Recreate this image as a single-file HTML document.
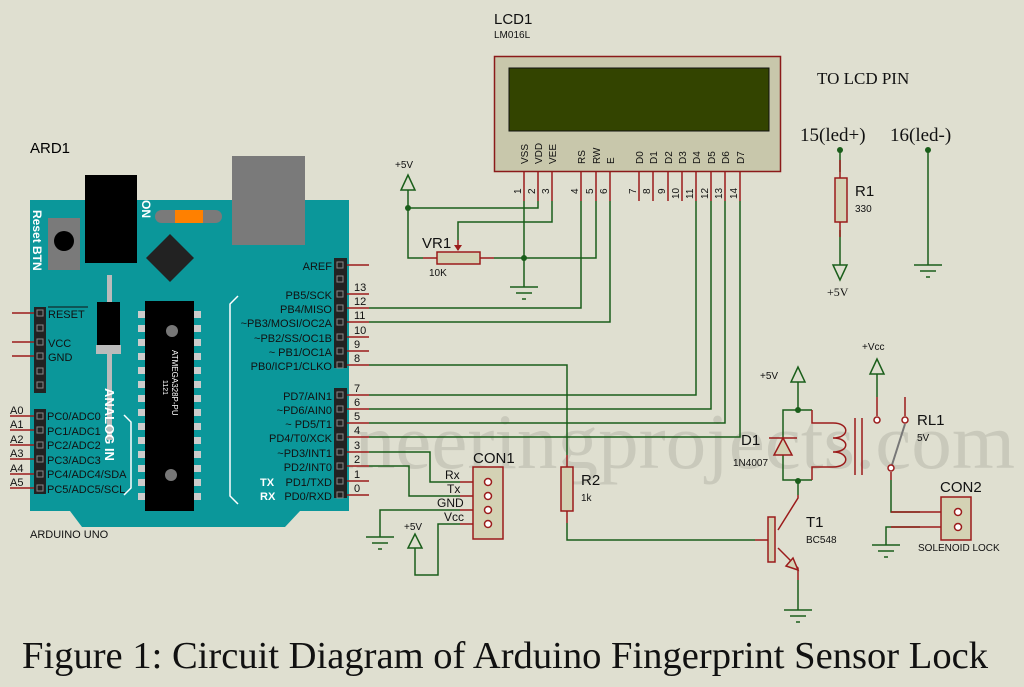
<!DOCTYPE html>
<html><head><meta charset="utf-8"><style>
html,body{margin:0;padding:0;background:#dfdfd0;}
svg{display:block;}
text{font-family:"Liberation Sans",sans-serif;}
.s{font-family:"Liberation Serif",serif;}
</style></head><body>
<svg width="1024" height="687" viewBox="0 0 1024 687" xmlns="http://www.w3.org/2000/svg">
<rect width="1024" height="687" fill="#dfdfd0"/>
<!-- watermark -->
<text x="215" y="468" class="s" font-size="78" fill="#c9c9bb" textLength="800" lengthAdjust="spacingAndGlyphs">engineeringprojects.com</text>

<!-- ARDUINO -->
<text x="30" y="153" font-size="15" fill="#000">ARD1</text>
<polygon points="30,200 349,200 349,511 300,511 285,527 82,527 70,511 30,511" fill="#0b979a"/>
<rect x="232" y="156" width="73" height="89" fill="#7a7a7a"/>
<rect x="85" y="175" width="52" height="88" fill="#000"/>
<rect x="48" y="218" width="32" height="52" fill="#7a7a7a"/>
<circle cx="64" cy="241" r="10" fill="#000"/>
<text transform="translate(33,210) rotate(90)" font-size="12" font-weight="bold" fill="#fff">Reset BTN</text>
<text transform="translate(142,200) rotate(90)" font-size="12" font-weight="bold" fill="#fff">ON</text>
<rect x="155" y="210" width="67" height="13" rx="6.5" fill="#7a7a7a"/>
<rect x="175" y="210" width="28" height="13" fill="#ff8000"/>
<polygon points="170,234 194,258 170,282 146,258" fill="#222"/>
<rect x="107" y="275" width="5" height="165" fill="#bbb"/>
<rect x="97" y="302" width="23" height="44" fill="#000"/>
<rect x="96" y="345" width="25" height="9" fill="#bbb"/>
<text transform="translate(105,388) rotate(90)" font-size="13" font-weight="bold" fill="#fff">ANALOG IN</text>
<!-- big chip -->
<rect x="145" y="301" width="49" height="210" fill="#000"/>
<g fill="#ccc">
<rect x="138" y="311" width="7" height="7"/><rect x="138" y="325" width="7" height="7"/><rect x="138" y="339" width="7" height="7"/><rect x="138" y="353" width="7" height="7"/><rect x="138" y="367" width="7" height="7"/><rect x="138" y="381" width="7" height="7"/><rect x="138" y="395" width="7" height="7"/><rect x="138" y="409" width="7" height="7"/><rect x="138" y="423" width="7" height="7"/><rect x="138" y="437" width="7" height="7"/><rect x="138" y="451" width="7" height="7"/><rect x="138" y="465" width="7" height="7"/><rect x="138" y="479" width="7" height="7"/><rect x="138" y="493" width="7" height="7"/>
<rect x="194" y="311" width="7" height="7"/><rect x="194" y="325" width="7" height="7"/><rect x="194" y="339" width="7" height="7"/><rect x="194" y="353" width="7" height="7"/><rect x="194" y="367" width="7" height="7"/><rect x="194" y="381" width="7" height="7"/><rect x="194" y="395" width="7" height="7"/><rect x="194" y="409" width="7" height="7"/><rect x="194" y="423" width="7" height="7"/><rect x="194" y="437" width="7" height="7"/><rect x="194" y="451" width="7" height="7"/><rect x="194" y="465" width="7" height="7"/><rect x="194" y="479" width="7" height="7"/><rect x="194" y="493" width="7" height="7"/>
</g>
<circle cx="172" cy="331" r="6" fill="#777"/><circle cx="171" cy="475" r="6" fill="#777"/>
<text transform="translate(163,380) rotate(90)" font-size="7" fill="#fff">1121</text>
<text transform="translate(172,350) rotate(90)" font-size="8" fill="#fff">ATMEGA328P-PU</text>
<!-- brackets -->
<polyline points="238,296 230,304 230,496 238,504" fill="none" stroke="#fff" stroke-width="1.5"/>
<polyline points="124,415 131,422 131,488 124,495" fill="none" stroke="#fff" stroke-width="1.5"/>
<!-- left headers -->
<g stroke="#9b1b1b" stroke-width="1.5">
<line x1="12" y1="313" x2="40" y2="313"/><line x1="12" y1="342" x2="40" y2="342"/><line x1="12" y1="356" x2="40" y2="356"/>
<line x1="10" y1="416" x2="40" y2="416"/><line x1="10" y1="430" x2="40" y2="430"/><line x1="10" y1="445" x2="40" y2="445"/><line x1="10" y1="459" x2="40" y2="459"/><line x1="10" y1="474" x2="40" y2="474"/><line x1="10" y1="488" x2="40" y2="488"/>
</g>
<rect x="34" y="307" width="12" height="86" fill="#222"/>
<rect x="34" y="409" width="12" height="85" fill="#222"/>
<g fill="none" stroke="#888" stroke-width="1">
<rect x="37" y="310" width="6" height="6"/><rect x="37" y="325" width="6" height="6"/><rect x="37" y="339" width="6" height="6"/><rect x="37" y="353" width="6" height="6"/><rect x="37" y="368" width="6" height="6"/><rect x="37" y="382" width="6" height="6"/>
<rect x="37" y="413" width="6" height="6"/><rect x="37" y="427" width="6" height="6"/><rect x="37" y="442" width="6" height="6"/><rect x="37" y="456" width="6" height="6"/><rect x="37" y="471" width="6" height="6"/><rect x="37" y="485" width="6" height="6"/>
</g>
<g font-size="11" fill="#111">
<text x="48" y="318">RESET</text><line x1="48" y1="307" x2="88" y2="307" stroke="#111"/>
<text x="48" y="347">VCC</text><text x="48" y="361">GND</text>
<text x="47" y="420">PC0/ADC0</text><text x="47" y="435">PC1/ADC1</text><text x="47" y="449">PC2/ADC2</text><text x="47" y="464">PC3/ADC3</text><text x="47" y="478">PC4/ADC4/SDA</text><text x="47" y="493">PC5/ADC5/SCL</text>
<text x="10" y="414">A0</text><text x="10" y="428">A1</text><text x="10" y="443">A2</text><text x="10" y="457">A3</text><text x="10" y="472">A4</text><text x="10" y="486">A5</text>
</g>
<text x="30" y="538" font-size="11" fill="#111">ARDUINO UNO</text>
<!-- right headers -->
<g stroke="#9b1b1b" stroke-width="1.5">
<line x1="340" y1="265" x2="369" y2="265"/><line x1="340" y1="294" x2="369" y2="294"/><line x1="340" y1="308" x2="369" y2="308"/><line x1="340" y1="322" x2="369" y2="322"/><line x1="340" y1="337" x2="369" y2="337"/><line x1="340" y1="351" x2="369" y2="351"/><line x1="340" y1="365" x2="369" y2="365"/>
<line x1="340" y1="395" x2="369" y2="395"/><line x1="340" y1="409" x2="369" y2="409"/><line x1="340" y1="423" x2="369" y2="423"/><line x1="340" y1="437" x2="369" y2="437"/><line x1="340" y1="452" x2="369" y2="452"/><line x1="340" y1="466" x2="369" y2="466"/><line x1="340" y1="481" x2="369" y2="481"/><line x1="340" y1="495" x2="369" y2="495"/>
</g>
<rect x="334" y="258" width="13" height="110" fill="#222"/>
<rect x="334" y="388" width="13" height="110" fill="#222"/>
<g fill="none" stroke="#888" stroke-width="1">
<rect x="337" y="262" width="6" height="6"/><rect x="337" y="276" width="6" height="6"/><rect x="337" y="291" width="6" height="6"/><rect x="337" y="305" width="6" height="6"/><rect x="337" y="319" width="6" height="6"/><rect x="337" y="334" width="6" height="6"/><rect x="337" y="348" width="6" height="6"/><rect x="337" y="362" width="6" height="6"/>
<rect x="337" y="392" width="6" height="6"/><rect x="337" y="406" width="6" height="6"/><rect x="337" y="420" width="6" height="6"/><rect x="337" y="434" width="6" height="6"/><rect x="337" y="449" width="6" height="6"/><rect x="337" y="463" width="6" height="6"/><rect x="337" y="478" width="6" height="6"/><rect x="337" y="492" width="6" height="6"/>
</g>
<g font-size="11" fill="#111" text-anchor="end">
<text x="332" y="270">AREF</text><text x="332" y="299">PB5/SCK</text><text x="332" y="313">PB4/MISO</text><text x="332" y="327">~PB3/MOSI/OC2A</text><text x="332" y="342">~PB2/SS/OC1B</text><text x="332" y="356">~ PB1/OC1A</text><text x="332" y="370">PB0/ICP1/CLKO</text>
<text x="332" y="400">PD7/AIN1</text><text x="332" y="414">~PD6/AIN0</text><text x="332" y="428">~ PD5/T1</text><text x="332" y="442">PD4/T0/XCK</text><text x="332" y="457">~PD3/INT1</text><text x="332" y="471">PD2/INT0</text><text x="332" y="486">PD1/TXD</text><text x="332" y="500">PD0/RXD</text>
</g>
<text x="260" y="486" font-size="11" font-weight="bold" fill="#fff">TX</text>
<text x="260" y="500" font-size="11" font-weight="bold" fill="#fff">RX</text>
<g font-size="11" fill="#111">
<text x="354" y="291">13</text><text x="354" y="305">12</text><text x="354" y="319">11</text><text x="354" y="334">10</text><text x="354" y="348">9</text><text x="354" y="362">8</text>
<text x="354" y="392">7</text><text x="354" y="406">6</text><text x="354" y="420">5</text><text x="354" y="434">4</text><text x="354" y="449">3</text><text x="354" y="463">2</text><text x="354" y="478">1</text><text x="354" y="492">0</text>
</g>

<!-- LCD -->
<text x="494" y="24" font-size="15" fill="#111">LCD1</text>
<text x="494" y="38" font-size="10" fill="#111">LM016L</text>
<rect x="494.5" y="56.5" width="286" height="115" fill="#c8c7ab" stroke="#8b1a1a" stroke-width="1.5"/>
<rect x="509" y="68" width="260" height="63" fill="#334400" stroke="#111"/>
<g font-size="10" fill="#111">
<text transform="translate(528,164) rotate(-90)">VSS</text><text transform="translate(542,164) rotate(-90)">VDD</text><text transform="translate(556,164) rotate(-90)">VEE</text>
<text transform="translate(585,164) rotate(-90)">RS</text><text transform="translate(600,164) rotate(-90)">RW</text><text transform="translate(614,164) rotate(-90)">E</text>
<text transform="translate(643,164) rotate(-90)">D0</text><text transform="translate(657,164) rotate(-90)">D1</text><text transform="translate(672,164) rotate(-90)">D2</text><text transform="translate(686,164) rotate(-90)">D3</text><text transform="translate(700,164) rotate(-90)">D4</text><text transform="translate(715,164) rotate(-90)">D5</text><text transform="translate(729,164) rotate(-90)">D6</text><text transform="translate(744,164) rotate(-90)">D7</text>
<text transform="translate(521,194) rotate(-90)">1</text><text transform="translate(535,194) rotate(-90)">2</text><text transform="translate(549,194) rotate(-90)">3</text><text transform="translate(578,194) rotate(-90)">4</text><text transform="translate(593,194) rotate(-90)">5</text><text transform="translate(607,194) rotate(-90)">6</text>
<text transform="translate(636,194) rotate(-90)">7</text><text transform="translate(650,194) rotate(-90)">8</text><text transform="translate(665,194) rotate(-90)">9</text><text transform="translate(679,199) rotate(-90)">10</text><text transform="translate(693,199) rotate(-90)">11</text><text transform="translate(708,199) rotate(-90)">12</text><text transform="translate(722,199) rotate(-90)">13</text><text transform="translate(737,199) rotate(-90)">14</text>
</g>
<g stroke="#9b1b1b" stroke-width="1.5">
<line x1="524" y1="172" x2="524" y2="201"/><line x1="538" y1="172" x2="538" y2="201"/><line x1="552" y1="172" x2="552" y2="201"/><line x1="581" y1="172" x2="581" y2="201"/><line x1="596" y1="172" x2="596" y2="201"/><line x1="610" y1="172" x2="610" y2="201"/>
<line x1="639" y1="172" x2="639" y2="201"/><line x1="653" y1="172" x2="653" y2="201"/><line x1="668" y1="172" x2="668" y2="201"/><line x1="682" y1="172" x2="682" y2="201"/><line x1="696" y1="172" x2="696" y2="201"/><line x1="711" y1="172" x2="711" y2="201"/><line x1="725" y1="172" x2="725" y2="201"/><line x1="740" y1="172" x2="740" y2="201"/>
</g>

<!-- wires -->
<g fill="none" stroke="#1a5e1a" stroke-width="1.5">
<polyline points="524,201 524,287"/>
<polyline points="538,201 538,208 408,208"/>
<polyline points="408,190 408,258 423,258"/>
<polyline points="552,201 552,222 458,222 458,240"/>
<polyline points="494,258 596,258 596,201"/>
<polyline points="581,201 581,308 369,308"/>
<polyline points="610,201 610,322 369,322"/>
<polyline points="696,201 696,395 369,395"/>
<polyline points="711,201 711,409 369,409"/>
<polyline points="725,201 725,423 369,423"/>
<polyline points="740,201 740,437 369,437"/>
<polyline points="369,365 567,365 567,455"/>
<polyline points="567,523 567,540 755,540"/>
<polyline points="369,452 430,452 430,482 460,482"/>
<polyline points="369,466 409,466 409,496 460,496"/>
<polyline points="460,510 380,510 380,537"/>
<polyline points="415,548 415,575 438,575 438,524 460,524"/>
<polyline points="840,150 840,172"/><polyline points="840,230 840,265"/>
<polyline points="928,150 928,265"/>
<polyline points="798,382 798,410"/>
<polyline points="812,410 783,410 783,480 812,480"/>
<polyline points="798,480 798,495"/>
<polyline points="798,580 798,610"/>
<polyline points="877,374 877,397"/>
<polyline points="891,480 891,512 920,512"/>
<polyline points="920,527 886,527 886,545"/>
</g>
<g fill="#1a5e1a">
<circle cx="408" cy="208" r="3"/><circle cx="524" cy="258" r="3"/><circle cx="840" cy="150" r="3"/><circle cx="928" cy="150" r="3"/><circle cx="798" cy="410" r="3"/><circle cx="798" cy="481" r="3"/>
</g>
<!-- VR1 -->
<line x1="423" y1="258" x2="437" y2="258" stroke="#9b1b1b" stroke-width="1.5"/>
<line x1="480" y1="258" x2="494" y2="258" stroke="#9b1b1b" stroke-width="1.5"/>
<rect x="437" y="252" width="43" height="12" fill="#d4d2b4" stroke="#9b1b1b" stroke-width="1.5"/>
<line x1="458" y1="240" x2="458" y2="250" stroke="#9b1b1b" stroke-width="1.5"/>
<polygon points="454,245 462,245 458,251" fill="#9b1b1b"/>
<text x="422" y="248" font-size="15" fill="#111">VR1</text>
<text x="429" y="276" font-size="10" fill="#111">10K</text>
<!-- +5V arrow lcd -->
<g fill="none" stroke="#1a5e1a" stroke-width="1.5">
<polygon points="408,175 401,190 415,190"/>
<polygon points="798,367 791,382 805,382"/>
<polygon points="877,359 870,374 884,374"/>
<polygon points="415,534 408,548 422,548"/>
<polygon points="840,280 833,265 847,265"/>
</g>
<g font-size="10" fill="#111">
<text x="395" y="168">+5V</text>
<text x="760" y="379">+5V</text>
<text x="862" y="350">+Vcc</text>
<text x="404" y="530">+5V</text>
</g>
<text x="827" y="296" class="s" font-size="12" fill="#111">+5V</text>
<!-- grounds -->
<g stroke="#1a5e1a" stroke-width="1.5">
<line x1="510" y1="287" x2="538" y2="287"/><line x1="516" y1="293" x2="532" y2="293"/><line x1="522" y1="299" x2="526" y2="299"/>
<line x1="914" y1="265" x2="942" y2="265"/><line x1="920" y1="271" x2="936" y2="271"/><line x1="926" y1="277" x2="930" y2="277"/>
<line x1="366" y1="537" x2="394" y2="537"/><line x1="372" y1="543" x2="388" y2="543"/><line x1="378" y1="549" x2="382" y2="549"/>
<line x1="784" y1="610" x2="812" y2="610"/><line x1="790" y1="616" x2="806" y2="616"/><line x1="796" y1="622" x2="800" y2="622"/>
<line x1="872" y1="545" x2="900" y2="545"/><line x1="878" y1="551" x2="894" y2="551"/><line x1="884" y1="557" x2="888" y2="557"/>
</g>
<!-- R1 -->
<text x="817" y="84" class="s" font-size="17" fill="#111">TO LCD PIN</text>
<text x="800" y="141" class="s" font-size="19" fill="#111">15(led+)</text>
<text x="890" y="141" class="s" font-size="19" fill="#111">16(led-)</text>
<line x1="840" y1="160" x2="840" y2="178" stroke="#9b1b1b" stroke-width="1.5"/>
<line x1="840" y1="222" x2="840" y2="237" stroke="#9b1b1b" stroke-width="1.5"/>
<rect x="835" y="178" width="12" height="44" fill="#d4d2b4" stroke="#9b1b1b" stroke-width="1.5"/>
<text x="855" y="196" font-size="15" fill="#111">R1</text>
<text x="855" y="212" font-size="10" fill="#111">330</text>
<!-- R2 -->
<line x1="567" y1="455" x2="567" y2="467" stroke="#9b1b1b" stroke-width="1.5"/>
<line x1="567" y1="511" x2="567" y2="523" stroke="#9b1b1b" stroke-width="1.5"/>
<rect x="561" y="467" width="12" height="44" fill="#d4d2b4" stroke="#9b1b1b" stroke-width="1.5"/>
<text x="581" y="485" font-size="15" fill="#111">R2</text>
<text x="581" y="501" font-size="10" fill="#111">1k</text>
<!-- CON1 -->
<text x="473" y="463" font-size="15" fill="#111">CON1</text>
<g stroke="#9b1b1b" stroke-width="1.5"><line x1="460" y1="482" x2="485" y2="482"/><line x1="460" y1="496" x2="485" y2="496"/><line x1="460" y1="510" x2="485" y2="510"/><line x1="460" y1="524" x2="485" y2="524"/></g>
<rect x="473" y="467" width="30" height="72" fill="#d4d2b4" stroke="#9b1b1b" stroke-width="1.5"/>
<g fill="#fff" stroke="#9b1b1b" stroke-width="1.5"><circle cx="488" cy="482" r="3.5"/><circle cx="488" cy="496" r="3.5"/><circle cx="488" cy="510" r="3.5"/><circle cx="488" cy="524" r="3.5"/></g>
<g class="s" font-size="12" fill="#111"><text x="445" y="479">Rx</text><text x="447" y="493">Tx</text><text x="437" y="507">GND</text><text x="444" y="521">Vcc</text></g>
<!-- relay -->
<g fill="none" stroke="#9b1b1b" stroke-width="1.5">
<polyline points="812,410 812,423 833,423"/>
<polyline points="812,480 812,467 833,467"/>
<path d="M833,423 C850,423 850,438 833,438 C850,438 850,452 833,452 C850,452 850,467 833,467"/>
<line x1="855" y1="418" x2="855" y2="475"/><line x1="862" y1="418" x2="862" y2="475"/>
<line x1="769" y1="438" x2="797" y2="438"/>
<polyline points="877,397 877,416"/>
<polyline points="905,397 905,416"/>
<polyline points="891,472 891,480"/>
<polyline points="891,512 941,512"/><polyline points="891,527 941,527"/>
<polyline points="798,495 798,498 778,530"/>
<polyline points="778,548 798,568 798,580"/>
<line x1="755" y1="540" x2="768" y2="540"/>
</g>
<polygon points="783,438 774,455 792,455" fill="#d4d2b4" stroke="#9b1b1b" stroke-width="1.5"/>
<polygon points="798,570 786,566 793,558" fill="#d4d2b4" stroke="#9b1b1b" stroke-width="1.5"/>
<rect x="768" y="517" width="7" height="45" fill="#d4d2b4" stroke="#9b1b1b" stroke-width="1.5"/>
<line x1="891" y1="468" x2="905" y2="424" stroke="#777" stroke-width="2"/>
<g fill="#fff" stroke="#9b1b1b" stroke-width="1.5"><circle cx="877" cy="420" r="3"/><circle cx="905" cy="420" r="3"/><circle cx="891" cy="468" r="3"/></g>
<text x="741" y="445" font-size="15" fill="#111">D1</text>
<text x="733" y="466" font-size="10" fill="#111">1N4007</text>
<text x="917" y="425" font-size="15" fill="#111">RL1</text>
<text x="917" y="441" font-size="10" fill="#111">5V</text>
<text x="806" y="527" font-size="15" fill="#111">T1</text>
<text x="806" y="543" font-size="10" fill="#111">BC548</text>
<!-- CON2 -->
<text x="940" y="492" font-size="15" fill="#111">CON2</text>
<rect x="941" y="497" width="30" height="43" fill="#d4d2b4" stroke="#9b1b1b" stroke-width="1.5"/>
<g fill="#fff" stroke="#9b1b1b" stroke-width="1.5"><circle cx="958" cy="512" r="3.5"/><circle cx="958" cy="527" r="3.5"/></g>
<text x="918" y="551" font-size="10" fill="#111">SOLENOID LOCK</text>
<!-- caption -->
<text x="22" y="668" class="s" font-size="38" fill="#111" textLength="966" lengthAdjust="spacingAndGlyphs">Figure 1: Circuit Diagram of Arduino Fingerprint Sensor Lock</text>
</svg>
</body></html>
